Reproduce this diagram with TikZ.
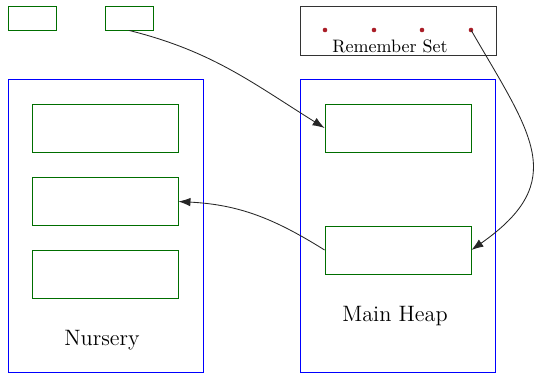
\documentclass[tikz,border=0pt]{standalone}
\usetikzlibrary{arrows.meta}
\begin{document}
\begin{tikzpicture}[x=0.5837pt,y=-0.5837pt,line width=0.5pt,
  cell/.style={draw={rgb,255:red,0;green,110;blue,0},inner sep=0pt,minimum width=146*0.5837pt,minimum height=48*0.5837pt},
  small/.style={draw={rgb,255:red,0;green,110;blue,0},inner sep=0pt,minimum width=48*0.5837pt,minimum height=24*0.5837pt},
  region/.style={draw=blue,inner sep=0pt,minimum width=195*0.5837pt,minimum height=293*0.5837pt},
  dotr/.style={circle,fill={rgb,255:red,170;green,30;blue,40},inner sep=0pt,minimum size=4.6*0.5837pt},
  conn/.style={draw=black!85,-{Latex[length=7pt,width=5pt]}},
  biglabel/.style={font=\fontsize{13}{15}\selectfont}]
\useasboundingbox (0,0) rectangle (535,373);
% top small boxes
\node[small] (s1) at (32,18) {};
\node[small] (s2) at (129,18) {};
% remember set
\node[draw=black!80,inner sep=0pt,minimum width=196*0.5837pt,minimum height=49*0.5837pt] (rs) at (398,30.5) {};
\node[font=\fontsize{10.5}{12}\selectfont] (rstext) at (390,46) {Remember Set};
\node[dotr] (d1) at (325,30) {};
\node[dotr] (d2) at (374,30) {};
\node[dotr] (d3) at (422,30) {};
\node[dotr] (d4) at (471,30) {};
% regions
\node[region] (nur) at (105.5,225.5) {};
\node[region] (heap) at (398,225.5) {};
% nursery cells
\node[cell] (n1) at (105,128) {};
\node[cell] (n2) at (105,201.5) {};
\node[cell] (n3) at (105,274.5) {};
\node[biglabel] (nl) at (102,340) {Nursery};
% heap cells
\node[cell] (h1) at (398,128) {};
\node[cell] (h2) at (398,250) {};
\node[biglabel] (hl) at (395,316) {Main Heap};
% connectors
\draw[conn] (s2.south) to[out=-14,in=148] (h1.west);
\draw[conn] (d4.center) to[out=-60,in=35,looseness=1.4] (h2.east);
\draw[conn] (h2.west) to[out=148,in=-3] (n2.east);
\end{tikzpicture}
\end{document}
